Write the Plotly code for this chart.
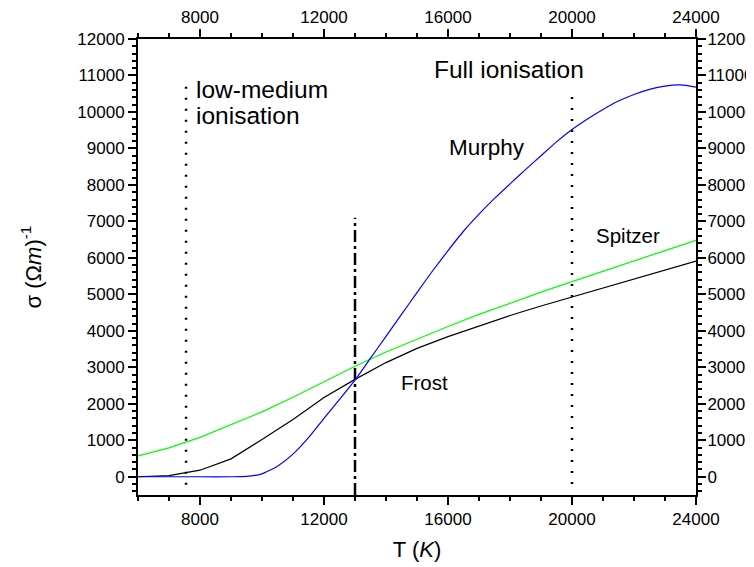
import plotly.graph_objects as go

# ---- data ----
T_spitzer = [6000, 7000, 8000, 9000, 10000, 11000, 12000, 13000, 14000, 15000,
             16000, 17000, 18000, 19000, 20000, 21000, 22000, 23000, 24000]
sigma_spitzer = [570, 790, 1080, 1420, 1780, 2180, 2610, 3030, 3420, 3780,
                 4120, 4450, 4760, 5060, 5350, 5640, 5920, 6200, 6480]

T_frost = [6000, 7000, 8000, 9000, 10000, 11000, 12000, 13000, 14000, 15000,
           16000, 17000, 18000, 19000, 20000, 21000, 22000, 23000, 24000]
sigma_frost = [0, 30, 180, 490, 1020, 1570, 2170, 2670, 3130, 3520,
               3840, 4140, 4420, 4680, 4930, 5180, 5420, 5660, 5910]

T_murphy = [6000, 7000, 8000, 9000, 9500, 10000, 10500, 11000, 11500, 12000,
            12500, 13000, 13500, 14000, 14500, 15000, 15500, 16000, 16500,
            17000, 17500, 18000, 18500, 19000, 19500, 20000, 20500, 21000,
            21500, 22000, 22500, 23000, 23500, 24000]
sigma_murphy = [0, 0, 0, 0, 10, 80, 290, 620, 1070, 1600,
                2120, 2650, 3250, 3850, 4450, 5050, 5640, 6200, 6730,
                7200, 7630, 8030, 8420, 8800, 9180, 9520, 9810, 10070,
                10300, 10480, 10620, 10710, 10740, 10680]

# vertical marker lines (x position, y extent)
low_line_x = [7550, 7550]
low_line_y = [-220, 10850]
full_line_x = [20000, 20000]
full_line_y = [-200, 10500]
cross_line_x = [13000, 13000]
cross_line_y = [-500, 7100]

x_ticks = [8000, 12000, 16000, 20000, 24000]
y_ticks = list(range(0, 12001, 1000))

FONT = "Liberation Sans, Arial, sans-serif"

fig = go.Figure()

fig.add_trace(go.Scatter(x=low_line_x, y=low_line_y, mode="lines",
                         line=dict(color="black", width=2.5, dash="2px,9px"),
                         hoverinfo="skip"))
fig.add_trace(go.Scatter(x=full_line_x, y=full_line_y, mode="lines",
                         line=dict(color="black", width=2.5, dash="2px,9px"),
                         hoverinfo="skip"))
fig.add_trace(go.Scatter(x=cross_line_x, y=cross_line_y, mode="lines",
                         line=dict(color="black", width=2.5, dash="12px,4px,3px,4px"),
                         hoverinfo="skip"))

fig.add_trace(go.Scatter(x=T_spitzer, y=sigma_spitzer, mode="lines", name="Spitzer",
                         line=dict(color="#00ff00", width=1.2)))
fig.add_trace(go.Scatter(x=T_frost, y=sigma_frost, mode="lines", name="Frost",
                         line=dict(color="black", width=1.2)))
fig.add_trace(go.Scatter(x=T_murphy, y=sigma_murphy, mode="lines", name="Murphy",
                         line=dict(color="#0000ff", width=1.2, shape="spline", smoothing=0.5)))

# dummy trace for mirrored axes with labels
fig.add_trace(go.Scatter(x=[x_ticks[0]], y=[y_ticks[0]], xaxis="x2", yaxis="y2",
                         mode="markers", marker=dict(opacity=0), hoverinfo="skip"))

common_x = dict(range=[6000, 24000], tickvals=x_ticks, tickformat="d", ticks="outside",
                ticklen=8, tickwidth=2, tickcolor="black", showline=True, linewidth=2,
                linecolor="black", showgrid=False, zeroline=False, automargin=False,
                tickfont=dict(family=FONT, size=17, color="black"),
                minor=dict(dtick=1000, tick0=0, ticks="outside", ticklen=4,
                           tickwidth=1.5, tickcolor="black", showgrid=False))
common_y = dict(range=[-500, 12000], tickvals=y_ticks, tickformat="d", ticks="outside",
                ticklen=8, tickwidth=2, tickcolor="black", showline=True, linewidth=2,
                linecolor="black", showgrid=False, zeroline=False, automargin=False,
                tickfont=dict(family=FONT, size=17, color="black"),
                minor=dict(dtick=200, tick0=0, ticks="outside", ticklen=4,
                           tickwidth=1.5, tickcolor="black", showgrid=False))

# page body has an 8px default margin, so the figure is sized to fit the window
fig.update_layout(
    width=746, height=559,
    margin=dict(l=130, r=58, t=31, b=72),
    paper_bgcolor="white", plot_bgcolor="white",
    showlegend=False,
    font=dict(family=FONT, color="black"),
    xaxis=dict(**common_x,
               title=dict(text="T (<i>K</i>)", font=dict(family=FONT, size=22), standoff=13)),
    yaxis=dict(**common_y,
               title=dict(text="σ (Ω<i>m</i>)<sup>-1</sup>", font=dict(family=FONT, size=22),
                          standoff=30)),
    xaxis2=dict(**common_x, overlaying="x", side="top", anchor="y", ticklabelstandoff=-1),
    yaxis2=dict(**common_y, overlaying="y", side="right", anchor="x", ticklabelstandoff=-2),
)

annots = [
    ("low-medium", 7820, 10628, 24.5, "left"),
    ("ionisation", 7820, 9901, 24.5, "left"),
    ("Full ionisation", 15480, 11176, 24.5, "left"),
    ("Murphy", 17258, 9032, 22.5, "center"),
    ("Spitzer", 21797, 6625, 20.5, "center"),
    ("Frost", 15236, 2595, 20.5, "center"),
]
for txt, x, y, size, anchor in annots:
    fig.add_annotation(x=x, y=y, xref="x", yref="y", text=txt, showarrow=False,
                       xanchor=anchor, yanchor="middle",
                       font=dict(family=FONT, size=size, color="black"))

fig.write_html("out.html")
